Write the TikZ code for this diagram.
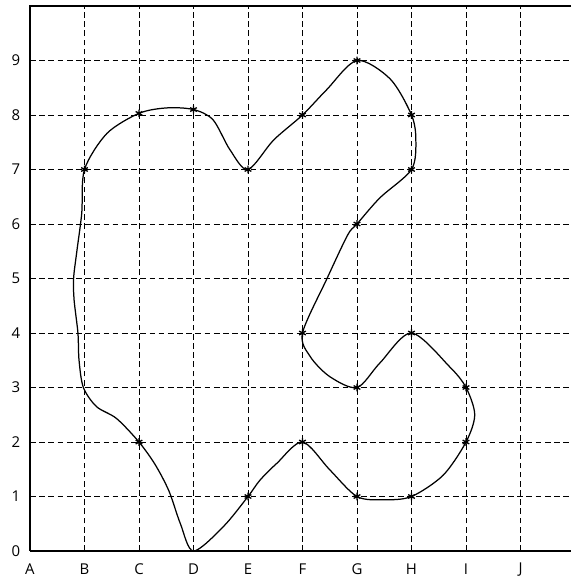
\documentclass[tikz,border=0pt]{standalone}
\usepackage{fontspec}
\setmainfont{Open Sans}
\usepackage{tikz}
\usetikzlibrary{positioning, calc, plotmarks}

\begin{document}
\begin{tikzpicture}[x=1cm, y=1cm,
    gridline/.style={line width=0.5pt, dash pattern=on 3pt off 1.8pt},
    frame/.style={line width=1pt},
    lbl/.style={font=\fontsize{7.8}{9}\selectfont, inner sep=0pt},
    outline/.style={line width=0.65pt, smooth cycle, tension=0.5}]
  \useasboundingbox (-0.550,-0.495) rectangle (9.927,10.110);
  \foreach \i in {1,...,9} \draw[gridline] (\i,0) -- (\i,10);
  \foreach \j in {1,...,9} \draw[gridline] (0,\j) -- (9.93,\j);
  \draw[frame] (9.93,10) -- (0,10) -- (0,0);
  \draw[line width=0.8pt] (0,0) -- (9.93,0);
  \foreach \j in {0,...,9} \node[lbl] (ly\j) at (-0.26,\j) {\j};
  \foreach \l [count=\i from 0] in {A,B,C,D,E,F,G,H,I,J}
    \node[lbl] (lx\l) at (\i,-0.335) {\l};
  \coordinate (B7) at (1,7);
  \coordinate (C8) at (2,8.03);
  \coordinate (D8) at (3,8.1);
  \coordinate (E7) at (4,7);
  \coordinate (F8) at (5,8);
  \coordinate (G9) at (6,9);
  \coordinate (H8) at (7,8);
  \coordinate (H7) at (7,7);
  \coordinate (G6) at (6,6);
  \coordinate (F4) at (5,4);
  \coordinate (G3) at (6,3);
  \coordinate (H4) at (7,4);
  \coordinate (I3) at (8,3);
  \coordinate (I2) at (8,2);
  \coordinate (H1) at (7,1);
  \coordinate (G1) at (6,1);
  \coordinate (F2) at (5,2);
  \coordinate (E1) at (4,1);
  \coordinate (D0) at (3,0);
  \coordinate (C2) at (2,2);
  \draw[outline] plot coordinates {
    (B7) (1.41,7.66) (C8) (2.51,8.13) (D8) (3.36,7.91) (3.67,7.36)
    (E7) (4.47,7.54) (F8) (5.44,8.46) (G9) (6.61,8.66) (H8) (7.08,7.54)
    (H7) (6.42,6.48) (G6) (5.83,5.8) (5.45,5) (F4) (5.14,3.57) (5.5,3.2)
    (G3) (6.42,3.45) (H4) (7.7,3.38) (I3) (8.16,2.5) (I2) (7.58,1.39)
    (H1) (6.5,0.94) (G1) (5.5,1.49) (F2) (4.53,1.61) (4.22,1.3) (E1)
    (3.55,0.45) (D0) (2.76,0.5) (2.55,1.1) (2.3,1.58) (C2) (1.59,2.43)
    (1.22,2.65) (0.98,3) (0.9,3.5) (0.88,4) (0.81,4.6) (0.8,5)
    (0.86,5.5) (0.95,6.2)};
  \draw[line width=0.7pt] plot[only marks, mark=asterisk, mark size=2pt] coordinates {
    (B7) (C8) (D8) (E7) (F8) (G9) (H8) (H7) (G6) (F4) (G3) (H4) (I3) (I2)
    (H1) (G1) (F2) (E1) (C2)};
\end{tikzpicture}
\end{document}
